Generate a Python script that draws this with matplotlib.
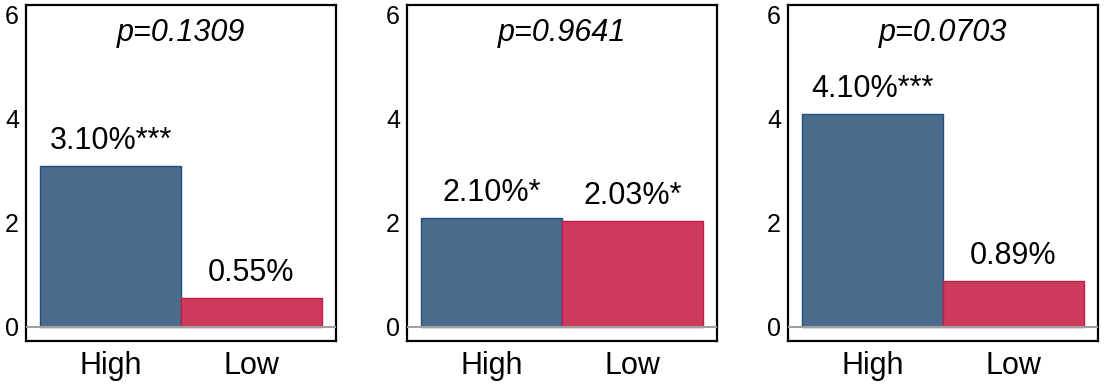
import matplotlib.pyplot as plt

plt.rcParams['font.family'] = ['Liberation Sans', 'DejaVu Sans']

# data
groups = ['High', 'Low']
high_vals = [3.10, 2.10, 4.10]
low_vals = [0.55, 2.03, 0.89]
high_labels = ['3.10%***', '2.10%*', '4.10%***']
low_labels = ['0.55%', '2.03%*', '0.89%']
p_values = ['p=0.1309', 'p=0.9641', 'p=0.0703']
yticks = [0, 2, 4, 6]

blue_fill, blue_edge = '#4a6b8b', '#23507a'
red_fill, red_edge = '#cc3a5c', '#c41c46'

fig = plt.figure(figsize=(11.05, 3.84), dpi=100)
lefts = [26, 407, 788]

for i in range(3):
    ax = fig.add_axes([lefts[i] / 1105, 43 / 384, 310 / 1105, 336 / 384])
    vals = [high_vals[i], low_vals[i]]
    labs = [high_labels[i], low_labels[i]]
    ax.bar([0, 1], vals, width=1.0, color=[blue_fill, red_fill],
           edgecolor=[blue_edge, red_edge], linewidth=1.0, zorder=2)
    ax.axhline(0, color='#a0a0a0', linewidth=1.5, zorder=3)
    for x, v, t in zip([0, 1], vals, labs):
        ax.text(x, v + 0.19, t, ha='center', va='bottom', fontsize=22)
    ax.text(0.5, 5.65, p_values[i], ha='center', va='center',
            fontsize=22, style='italic')
    ax.set_xlim(-0.6, 1.6)
    ax.set_ylim(-0.27, 6.19)
    ax.set_yticks(yticks)
    ax.set_xticks([0, 1])
    ax.set_xticklabels(groups, fontsize=22)
    ax.tick_params(axis='y', length=0, labelsize=18, pad=5)
    ax.tick_params(axis='x', length=0, pad=7)
    for s in ax.spines.values():
        s.set_linewidth(1.6)
        s.set_color('black')

fig.savefig('out.png', dpi=100)
